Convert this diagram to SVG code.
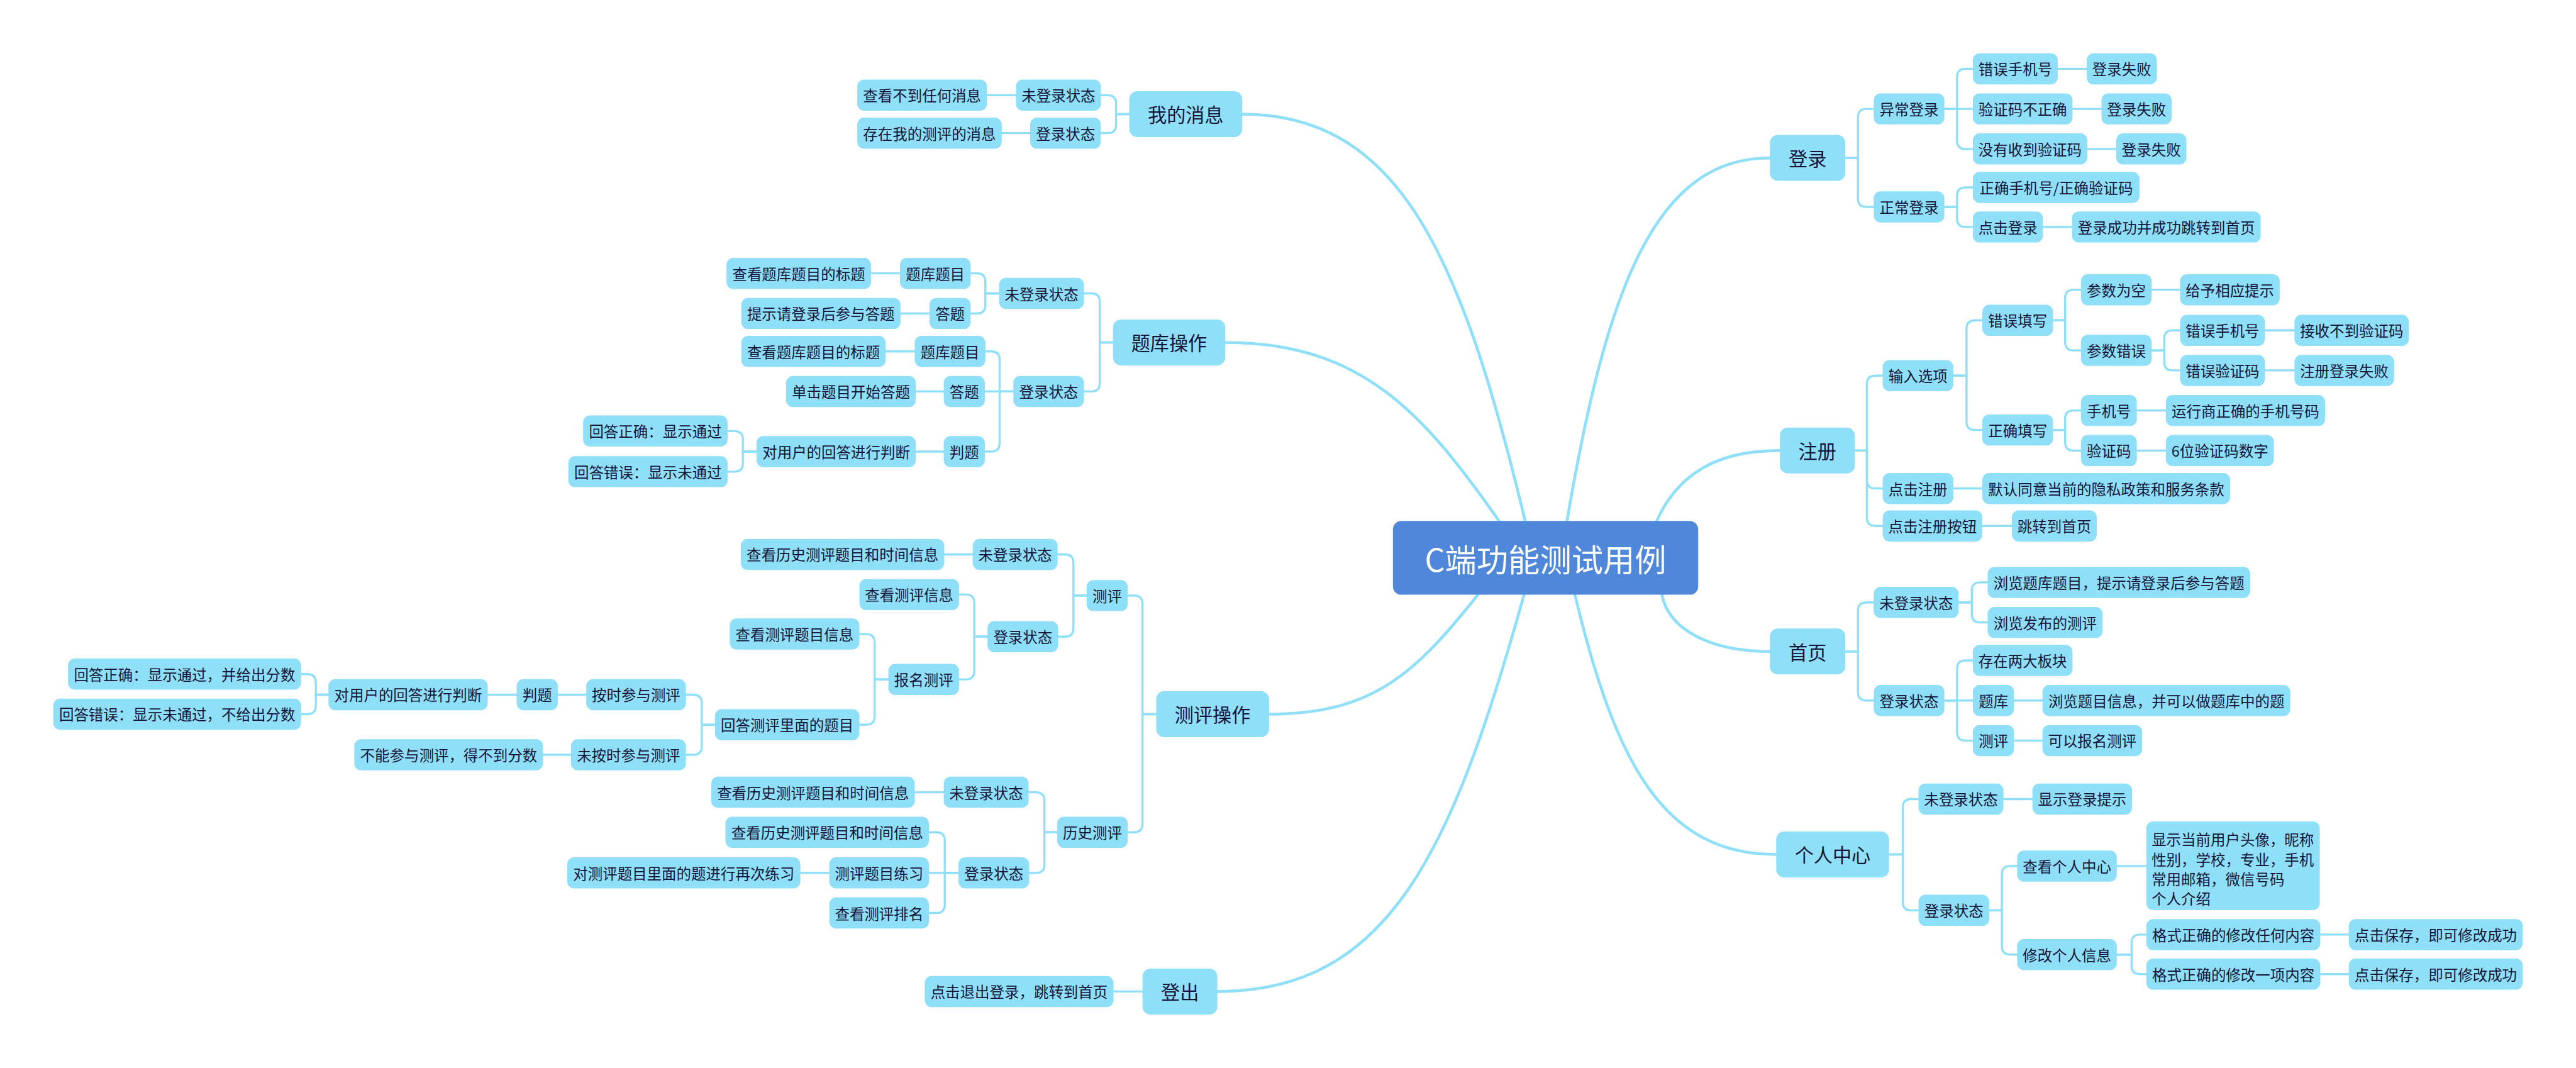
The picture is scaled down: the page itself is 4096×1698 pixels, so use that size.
<svg xmlns="http://www.w3.org/2000/svg" width="4096" height="1698" viewBox="0 0 4096 1698">
<style>
.n rect{fill:#8fdff9}
.n text{font-family:"Noto Sans CJK SC","Noto Sans",sans-serif;font-size:28px;fill:#15153a;text-anchor:middle;dominant-baseline:central}
.l1 text{font-size:36px}
.root rect{fill:#4f87db}
.root text{font-family:"Noto Sans CJK SC","Noto Sans",sans-serif;font-size:60px;fill:#ffffff;text-anchor:middle;dominant-baseline:central}
#connectors path{fill:none;stroke:#8fdff9;stroke-width:4;stroke-linecap:round}
#connectors .m{stroke-width:5.5}
</style>
<rect width="4096" height="1698" fill="#ffffff"/>
<g transform="scale(0.838313)">
<g id="connectors">
<path class="m" d="M2893,989 C2773,489 2656,216.5 2356,216.5"/>
<path class="m" d="M2844,989 C2701,785 2584,649.5 2324,649.5"/>
<path class="m" d="M2804,1127 C2686,1275 2606,1354.5 2407,1354.5"/>
<path class="m" d="M2891,1127 C2754,1617 2634,1880.5 2309,1880.5"/>
<path class="m" d="M2972,989 C3048,541 3141,299.5 3357,299.5"/>
<path class="m" d="M3142,989 C3182,899 3256,854.5 3376,854.5"/>
<path class="m" d="M3152,1127 C3165,1195 3245,1235.5 3357,1235.5"/>
<path class="m" d="M2987,1127 C3064,1448 3155,1620.5 3369,1620.5"/>
<path d="M3500,299.5 H3524 V222.5 Q3524,206.5 3540,206.5 H3554"/>
<path d="M3500,299.5 H3524 V376.5 Q3524,392.5 3540,392.5 H3554"/>
<path d="M3688,206.5 H3712 V146.5 Q3712,130.5 3728,130.5 H3742"/>
<path d="M3688,206.5 H3742"/>
<path d="M3688,206.5 H3712 V266.5 Q3712,282.5 3728,282.5 H3742"/>
<path d="M3903,130.5 H3958"/>
<path d="M3931,206.5 H3986"/>
<path d="M3959,282.5 H4014"/>
<path d="M3688,392.5 H3712 V371.5 Q3712,355.5 3728,355.5 H3742"/>
<path d="M3688,392.5 H3712 V414.5 Q3712,430.5 3728,430.5 H3742"/>
<path d="M3875,430.5 H3930"/>
<path d="M3518,854.5 H3541 V728.5 Q3541,712.5 3557,712.5 H3571"/>
<path d="M3518,854.5 H3541 V910.5 Q3541,926.5 3557,926.5 H3571"/>
<path d="M3518,854.5 H3541 V981.5 Q3541,997.5 3557,997.5 H3571"/>
<path d="M3705,712.5 H3730 V623.5 Q3730,607.5 3746,607.5 H3760"/>
<path d="M3705,712.5 H3730 V799.5 Q3730,815.5 3746,815.5 H3760"/>
<path d="M3894,607.5 H3917 V565.5 Q3917,549.5 3933,549.5 H3947"/>
<path d="M3894,607.5 H3917 V648.5 Q3917,664.5 3933,664.5 H3947"/>
<path d="M4081,549.5 H4135"/>
<path d="M4081,664.5 H4105 V642.5 Q4105,626.5 4121,626.5 H4135"/>
<path d="M4081,664.5 H4105 V686.5 Q4105,702.5 4121,702.5 H4135"/>
<path d="M4296,626.5 H4352"/>
<path d="M4296,702.5 H4352"/>
<path d="M3894,815.5 H3917 V794.5 Q3917,778.5 3933,778.5 H3947"/>
<path d="M3894,815.5 H3917 V838.5 Q3917,854.5 3933,854.5 H3947"/>
<path d="M4053,778.5 H4108"/>
<path d="M4053,854.5 H4108"/>
<path d="M3705,926.5 H3760"/>
<path d="M3760,997.5 H3816"/>
<path d="M3500,1235.5 H3524 V1158.5 Q3524,1142.5 3540,1142.5 H3554"/>
<path d="M3500,1235.5 H3524 V1312.5 Q3524,1328.5 3540,1328.5 H3554"/>
<path d="M3715,1142.5 H3740 V1120.5 Q3740,1104.5 3756,1104.5 H3770"/>
<path d="M3715,1142.5 H3740 V1164.5 Q3740,1180.5 3756,1180.5 H3770"/>
<path d="M3688,1328.5 H3712 V1268.5 Q3712,1252.5 3728,1252.5 H3742"/>
<path d="M3688,1328.5 H3742"/>
<path d="M3688,1328.5 H3712 V1388.5 Q3712,1404.5 3728,1404.5 H3742"/>
<path d="M3820,1328.5 H3874"/>
<path d="M3820,1404.5 H3874"/>
<path d="M3583,1620.5 H3609 V1531.5 Q3609,1515.5 3625,1515.5 H3639"/>
<path d="M3583,1620.5 H3609 V1710.5 Q3609,1726.5 3625,1726.5 H3639"/>
<path d="M3800,1515.5 H3855"/>
<path d="M3773,1726.5 H3797 V1658.5 Q3797,1642.5 3813,1642.5 H3826"/>
<path d="M3773,1726.5 H3797 V1794.5 Q3797,1810.5 3813,1810.5 H3826"/>
<path d="M4015,1642.5 H4071"/>
<path d="M4015,1810.5 H4043 V1788.5 Q4043,1772.5 4059,1772.5 H4071"/>
<path d="M4015,1810.5 H4043 V1831.5 Q4043,1847.5 4059,1847.5 H4071"/>
<path d="M4401,1772.5 H4455"/>
<path d="M4401,1847.5 H4455"/>
<path d="M2142,216.5 H2117 V196.5 Q2117,180.5 2101,180.5 H2088"/>
<path d="M2142,216.5 H2117 V236.5 Q2117,252.5 2101,252.5 H2088"/>
<path d="M1927,180.5 H1872"/>
<path d="M1954,252.5 H1900"/>
<path d="M2111,649.5 H2086 V572.5 Q2086,556.5 2070,556.5 H2056"/>
<path d="M2111,649.5 H2086 V726.5 Q2086,742.5 2070,742.5 H2056"/>
<path d="M1895,556.5 H1869 V534.5 Q1869,518.5 1853,518.5 H1841"/>
<path d="M1895,556.5 H1869 V578.5 Q1869,594.5 1853,594.5 H1841"/>
<path d="M1707,518.5 H1652"/>
<path d="M1763,594.5 H1708"/>
<path d="M1922,742.5 H1896 V682.5 Q1896,666.5 1880,666.5 H1869"/>
<path d="M1922,742.5 H1868"/>
<path d="M1922,742.5 H1896 V840.5 Q1896,856.5 1880,856.5 H1868"/>
<path d="M1735,666.5 H1680"/>
<path d="M1790,742.5 H1737"/>
<path d="M1790,856.5 H1737"/>
<path d="M1435,856.5 H1409 V833.5 Q1409,817.5 1393,817.5 H1380"/>
<path d="M1435,856.5 H1409 V878.5 Q1409,894.5 1393,894.5 H1380"/>
<path d="M2193,1354.5 H2167 V1145.5 Q2167,1129.5 2151,1129.5 H2139"/>
<path d="M2193,1354.5 H2167 V1562.5 Q2167,1578.5 2151,1578.5 H2139"/>
<path d="M2061,1129.5 H2036 V1067.5 Q2036,1051.5 2020,1051.5 H2006"/>
<path d="M2061,1129.5 H2036 V1191.5 Q2036,1207.5 2020,1207.5 H2007"/>
<path d="M1845,1051.5 H1791"/>
<path d="M1873,1207.5 H1848 V1143.5 Q1848,1127.5 1832,1127.5 H1819"/>
<path d="M1873,1207.5 H1848 V1272.5 Q1848,1288.5 1832,1288.5 H1819"/>
<path d="M1685,1288.5 H1659 V1218.5 Q1659,1202.5 1643,1202.5 H1630"/>
<path d="M1685,1288.5 H1659 V1358.5 Q1659,1374.5 1643,1374.5 H1630"/>
<path d="M1356,1374.5 H1331 V1333.5 Q1331,1317.5 1315,1317.5 H1301"/>
<path d="M1356,1374.5 H1331 V1415.5 Q1331,1431.5 1315,1431.5 H1301"/>
<path d="M1112,1317.5 H1058"/>
<path d="M980,1317.5 H925"/>
<path d="M623,1317.5 H599 V1294.5 Q599,1278.5 583,1278.5 H571"/>
<path d="M623,1317.5 H599 V1338.5 Q599,1354.5 583,1354.5 H571"/>
<path d="M1083,1431.5 H1030"/>
<path d="M2005,1578.5 H1981 V1518.5 Q1981,1502.5 1965,1502.5 H1951"/>
<path d="M2005,1578.5 H1981 V1639.5 Q1981,1655.5 1965,1655.5 H1952"/>
<path d="M1790,1502.5 H1735"/>
<path d="M1818,1655.5 H1792 V1594.5 Q1792,1578.5 1776,1578.5 H1762"/>
<path d="M1818,1655.5 H1762"/>
<path d="M1818,1655.5 H1792 V1715.5 Q1792,1731.5 1776,1731.5 H1762"/>
<path d="M1573,1655.5 H1518"/>
<path d="M2167,1880.5 H2112"/>
</g>

<g id="root" class="root"><rect x="2642" y="988" width="579" height="140" rx="16"/><text x="2931.5" y="1058">C端功能测试用例</text></g>

<g id="login" class="n l1"><rect x="3357" y="256" width="143" height="87" rx="15"/><text x="3428.5" y="299.5">登录</text></g>
<g id="login-abn" class="n"><rect x="3554" y="177" width="134" height="59" rx="13"/><text x="3621" y="206.5">异常登录</text></g>
<g id="login-abn-1" class="n"><rect x="3742" y="101" width="161" height="59" rx="13"/><text x="3822.5" y="130.5">错误手机号</text></g>
<g id="login-abn-1a" class="n"><rect x="3958" y="101" width="133" height="59" rx="13"/><text x="4024.5" y="130.5">登录失败</text></g>
<g id="login-abn-2" class="n"><rect x="3742" y="177" width="189" height="59" rx="13"/><text x="3836.5" y="206.5">验证码不正确</text></g>
<g id="login-abn-2a" class="n"><rect x="3986" y="177" width="133" height="59" rx="13"/><text x="4052.5" y="206.5">登录失败</text></g>
<g id="login-abn-3" class="n"><rect x="3742" y="253" width="217" height="59" rx="13"/><text x="3850.5" y="282.5">没有收到验证码</text></g>
<g id="login-abn-3a" class="n"><rect x="4014" y="253" width="133" height="59" rx="13"/><text x="4080.5" y="282.5">登录失败</text></g>
<g id="login-ok" class="n"><rect x="3554" y="363" width="134" height="59" rx="13"/><text x="3621" y="392.5">正常登录</text></g>
<g id="login-ok-1" class="n"><rect x="3742" y="326" width="316" height="59" rx="13"/><text x="3900" y="355.5">正确手机号/正确验证码</text></g>
<g id="login-ok-2" class="n"><rect x="3742" y="401" width="133" height="59" rx="13"/><text x="3808.5" y="430.5">点击登录</text></g>
<g id="login-ok-2a" class="n"><rect x="3930" y="401" width="358" height="59" rx="13"/><text x="4109" y="430.5">登录成功并成功跳转到首页</text></g>

<g id="reg" class="n l1"><rect x="3376" y="811" width="142" height="87" rx="15"/><text x="3447" y="854.5">注册</text></g>
<g id="reg-input" class="n"><rect x="3571" y="683" width="134" height="59" rx="13"/><text x="3638" y="712.5">输入选项</text></g>
<g id="reg-wrong" class="n"><rect x="3760" y="578" width="134" height="59" rx="13"/><text x="3827" y="607.5">错误填写</text></g>
<g id="reg-empty" class="n"><rect x="3947" y="520" width="134" height="59" rx="13"/><text x="4014" y="549.5">参数为空</text></g>
<g id="reg-empty-a" class="n"><rect x="4135" y="520" width="189" height="59" rx="13"/><text x="4229.5" y="549.5">给予相应提示</text></g>
<g id="reg-err" class="n"><rect x="3947" y="635" width="134" height="59" rx="13"/><text x="4014" y="664.5">参数错误</text></g>
<g id="reg-err-1" class="n"><rect x="4135" y="597" width="161" height="59" rx="13"/><text x="4215.5" y="626.5">错误手机号</text></g>
<g id="reg-err-1a" class="n"><rect x="4352" y="597" width="217" height="59" rx="13"/><text x="4460.5" y="626.5">接收不到验证码</text></g>
<g id="reg-err-2" class="n"><rect x="4135" y="673" width="161" height="59" rx="13"/><text x="4215.5" y="702.5">错误验证码</text></g>
<g id="reg-err-2a" class="n"><rect x="4352" y="673" width="189" height="59" rx="13"/><text x="4446.5" y="702.5">注册登录失败</text></g>
<g id="reg-right" class="n"><rect x="3760" y="786" width="134" height="59" rx="13"/><text x="3827" y="815.5">正确填写</text></g>
<g id="reg-phone" class="n"><rect x="3947" y="749" width="106" height="59" rx="13"/><text x="4000" y="778.5">手机号</text></g>
<g id="reg-phone-a" class="n"><rect x="4108" y="749" width="302" height="59" rx="13"/><text x="4259" y="778.5">运行商正确的手机号码</text></g>
<g id="reg-code" class="n"><rect x="3947" y="825" width="106" height="59" rx="13"/><text x="4000" y="854.5">验证码</text></g>
<g id="reg-code-a" class="n"><rect x="4108" y="825" width="205" height="59" rx="13"/><text x="4210.5" y="854.5">6位验证码数字</text></g>
<g id="reg-click" class="n"><rect x="3571" y="897" width="134" height="59" rx="13"/><text x="3638" y="926.5">点击注册</text></g>
<g id="reg-click-a" class="n"><rect x="3760" y="897" width="470" height="59" rx="13"/><text x="3995" y="926.5">默认同意当前的隐私政策和服务条款</text></g>
<g id="reg-btn" class="n"><rect x="3571" y="968" width="189" height="59" rx="13"/><text x="3665.5" y="997.5">点击注册按钮</text></g>
<g id="reg-btn-a" class="n"><rect x="3816" y="968" width="161" height="59" rx="13"/><text x="3896.5" y="997.5">跳转到首页</text></g>

<g id="home" class="n l1"><rect x="3357" y="1192" width="143" height="87" rx="15"/><text x="3428.5" y="1235.5">首页</text></g>
<g id="home-out" class="n"><rect x="3554" y="1113" width="161" height="59" rx="13"/><text x="3634.5" y="1142.5">未登录状态</text></g>
<g id="home-out-1" class="n"><rect x="3770" y="1075" width="498" height="59" rx="13"/><text x="4019" y="1104.5">浏览题库题目，提示请登录后参与答题</text></g>
<g id="home-out-2" class="n"><rect x="3770" y="1151" width="218" height="59" rx="13"/><text x="3879" y="1180.5">浏览发布的测评</text></g>
<g id="home-in" class="n"><rect x="3554" y="1299" width="134" height="59" rx="13"/><text x="3621" y="1328.5">登录状态</text></g>
<g id="home-in-1" class="n"><rect x="3742" y="1223" width="189" height="59" rx="13"/><text x="3836.5" y="1252.5">存在两大板块</text></g>
<g id="home-in-2" class="n"><rect x="3742" y="1299" width="78" height="59" rx="13"/><text x="3781" y="1328.5">题库</text></g>
<g id="home-in-2a" class="n"><rect x="3874" y="1299" width="470" height="59" rx="13"/><text x="4109" y="1328.5">浏览题目信息，并可以做题库中的题</text></g>
<g id="home-in-3" class="n"><rect x="3742" y="1375" width="78" height="59" rx="13"/><text x="3781" y="1404.5">测评</text></g>
<g id="home-in-3a" class="n"><rect x="3874" y="1375" width="189" height="59" rx="13"/><text x="3968.5" y="1404.5">可以报名测评</text></g>

<g id="pc" class="n l1"><rect x="3369" y="1577" width="214" height="87" rx="15"/><text x="3476" y="1620.5">个人中心</text></g>
<g id="pc-out" class="n"><rect x="3639" y="1486" width="161" height="59" rx="13"/><text x="3719.5" y="1515.5">未登录状态</text></g>
<g id="pc-out-a" class="n"><rect x="3855" y="1486" width="189" height="59" rx="13"/><text x="3949.5" y="1515.5">显示登录提示</text></g>
<g id="pc-in" class="n"><rect x="3639" y="1697" width="134" height="59" rx="13"/><text x="3706" y="1726.5">登录状态</text></g>
<g id="pc-view" class="n"><rect x="3826" y="1613" width="189" height="59" rx="13"/><text x="3920.5" y="1642.5">查看个人中心</text></g>
<g id="pc-view-a" class="n"><rect x="4071" y="1558" width="329" height="168" rx="13"/><text x="4081" y="1591" style="text-anchor:start">显示当前用户头像，昵称</text><text x="4081" y="1629" style="text-anchor:start">性别，学校，专业，手机</text><text x="4081" y="1667" style="text-anchor:start">常用邮箱，微信号码</text><text x="4081" y="1704" style="text-anchor:start">个人介绍</text></g>
<g id="pc-edit" class="n"><rect x="3826" y="1781" width="189" height="59" rx="13"/><text x="3920.5" y="1810.5">修改个人信息</text></g>
<g id="pc-edit-1" class="n"><rect x="4071" y="1743" width="330" height="59" rx="13"/><text x="4236" y="1772.5">格式正确的修改任何内容</text></g>
<g id="pc-edit-1a" class="n"><rect x="4455" y="1743" width="330" height="59" rx="13"/><text x="4620" y="1772.5">点击保存，即可修改成功</text></g>
<g id="pc-edit-2" class="n"><rect x="4071" y="1818" width="330" height="59" rx="13"/><text x="4236" y="1847.5">格式正确的修改一项内容</text></g>
<g id="pc-edit-2a" class="n"><rect x="4455" y="1818" width="330" height="59" rx="13"/><text x="4620" y="1847.5">点击保存，即可修改成功</text></g>

<g id="msg" class="n l1"><rect x="2142" y="173" width="214" height="87" rx="15"/><text x="2249" y="216.5">我的消息</text></g>
<g id="msg-out" class="n"><rect x="1927" y="151" width="161" height="59" rx="13"/><text x="2007.5" y="180.5">未登录状态</text></g>
<g id="msg-out-a" class="n"><rect x="1626" y="151" width="246" height="59" rx="13"/><text x="1749" y="180.5">查看不到任何消息</text></g>
<g id="msg-in" class="n"><rect x="1954" y="223" width="134" height="59" rx="13"/><text x="2021" y="252.5">登录状态</text></g>
<g id="msg-in-a" class="n"><rect x="1626" y="223" width="274" height="59" rx="13"/><text x="1763" y="252.5">存在我的测评的消息</text></g>

<g id="tk" class="n l1"><rect x="2111" y="606" width="213" height="87" rx="15"/><text x="2217.5" y="649.5">题库操作</text></g>
<g id="tk-out" class="n"><rect x="1895" y="527" width="161" height="59" rx="13"/><text x="1975.5" y="556.5">未登录状态</text></g>
<g id="tk-out-1" class="n"><rect x="1707" y="489" width="134" height="59" rx="13"/><text x="1774" y="518.5">题库题目</text></g>
<g id="tk-out-1a" class="n"><rect x="1378" y="489" width="274" height="59" rx="13"/><text x="1515" y="518.5">查看题库题目的标题</text></g>
<g id="tk-out-2" class="n"><rect x="1763" y="565" width="78" height="59" rx="13"/><text x="1802" y="594.5">答题</text></g>
<g id="tk-out-2a" class="n"><rect x="1406" y="565" width="302" height="59" rx="13"/><text x="1557" y="594.5">提示请登录后参与答题</text></g>
<g id="tk-in" class="n"><rect x="1922" y="713" width="134" height="59" rx="13"/><text x="1989" y="742.5">登录状态</text></g>
<g id="tk-in-1" class="n"><rect x="1735" y="637" width="134" height="59" rx="13"/><text x="1802" y="666.5">题库题目</text></g>
<g id="tk-in-1a" class="n"><rect x="1406" y="637" width="274" height="59" rx="13"/><text x="1543" y="666.5">查看题库题目的标题</text></g>
<g id="tk-in-2" class="n"><rect x="1790" y="713" width="78" height="59" rx="13"/><text x="1829" y="742.5">答题</text></g>
<g id="tk-in-2a" class="n"><rect x="1491" y="713" width="246" height="59" rx="13"/><text x="1614" y="742.5">单击题目开始答题</text></g>
<g id="tk-in-3" class="n"><rect x="1790" y="827" width="78" height="59" rx="13"/><text x="1829" y="856.5">判题</text></g>
<g id="tk-in-3a" class="n"><rect x="1435" y="827" width="302" height="59" rx="13"/><text x="1586" y="856.5">对用户的回答进行判断</text></g>
<g id="tk-in-3a1" class="n"><rect x="1106" y="788" width="274" height="59" rx="13"/><text x="1243" y="817.5">回答正确：显示通过</text></g>
<g id="tk-in-3a2" class="n"><rect x="1078" y="865" width="302" height="59" rx="13"/><text x="1229" y="894.5">回答错误：显示未通过</text></g>

<g id="cp" class="n l1"><rect x="2193" y="1311" width="214" height="87" rx="15"/><text x="2300" y="1354.5">测评操作</text></g>
<g id="cp-eval" class="n"><rect x="2061" y="1100" width="78" height="59" rx="13"/><text x="2100" y="1129.5">测评</text></g>
<g id="cp-eval-out" class="n"><rect x="1845" y="1022" width="161" height="59" rx="13"/><text x="1925.5" y="1051.5">未登录状态</text></g>
<g id="cp-eval-out-a" class="n"><rect x="1405" y="1022" width="386" height="59" rx="13"/><text x="1598" y="1051.5">查看历史测评题目和时间信息</text></g>
<g id="cp-eval-in" class="n"><rect x="1873" y="1178" width="134" height="59" rx="13"/><text x="1940" y="1207.5">登录状态</text></g>
<g id="cp-eval-in-1" class="n"><rect x="1630" y="1098" width="189" height="59" rx="13"/><text x="1724.5" y="1127.5">查看测评信息</text></g>
<g id="cp-eval-in-2" class="n"><rect x="1685" y="1259" width="134" height="59" rx="13"/><text x="1752" y="1288.5">报名测评</text></g>
<g id="cp-eval-in-2a" class="n"><rect x="1384" y="1173" width="246" height="59" rx="13"/><text x="1507" y="1202.5">查看测评题目信息</text></g>
<g id="cp-eval-in-2b" class="n"><rect x="1356" y="1345" width="274" height="59" rx="13"/><text x="1493" y="1374.5">回答测评里面的题目</text></g>
<g id="cp-ontime" class="n"><rect x="1112" y="1288" width="189" height="59" rx="13"/><text x="1206.5" y="1317.5">按时参与测评</text></g>
<g id="cp-judge" class="n"><rect x="980" y="1288" width="78" height="59" rx="13"/><text x="1019" y="1317.5">判题</text></g>
<g id="cp-judge-a" class="n"><rect x="623" y="1288" width="302" height="59" rx="13"/><text x="774" y="1317.5">对用户的回答进行判断</text></g>
<g id="cp-judge-a1" class="n"><rect x="129" y="1249" width="442" height="59" rx="13"/><text x="350" y="1278.5">回答正确：显示通过，并给出分数</text></g>
<g id="cp-judge-a2" class="n"><rect x="101" y="1325" width="470" height="59" rx="13"/><text x="336" y="1354.5">回答错误：显示未通过，不给出分数</text></g>
<g id="cp-late" class="n"><rect x="1083" y="1402" width="218" height="59" rx="13"/><text x="1192" y="1431.5">未按时参与测评</text></g>
<g id="cp-late-a" class="n"><rect x="672" y="1402" width="358" height="59" rx="13"/><text x="851" y="1431.5">不能参与测评，得不到分数</text></g>
<g id="cp-hist" class="n"><rect x="2005" y="1549" width="134" height="59" rx="13"/><text x="2072" y="1578.5">历史测评</text></g>
<g id="cp-hist-out" class="n"><rect x="1790" y="1473" width="161" height="59" rx="13"/><text x="1870.5" y="1502.5">未登录状态</text></g>
<g id="cp-hist-out-a" class="n"><rect x="1349" y="1473" width="386" height="59" rx="13"/><text x="1542" y="1502.5">查看历史测评题目和时间信息</text></g>
<g id="cp-hist-in" class="n"><rect x="1818" y="1626" width="134" height="59" rx="13"/><text x="1885" y="1655.5">登录状态</text></g>
<g id="cp-hist-in-1" class="n"><rect x="1376" y="1549" width="386" height="59" rx="13"/><text x="1569" y="1578.5">查看历史测评题目和时间信息</text></g>
<g id="cp-hist-in-2" class="n"><rect x="1573" y="1626" width="189" height="59" rx="13"/><text x="1667.5" y="1655.5">测评题目练习</text></g>
<g id="cp-hist-in-2a" class="n"><rect x="1076" y="1626" width="442" height="59" rx="13"/><text x="1297" y="1655.5">对测评题目里面的题进行再次练习</text></g>
<g id="cp-hist-in-3" class="n"><rect x="1573" y="1702" width="189" height="59" rx="13"/><text x="1667.5" y="1731.5">查看测评排名</text></g>

<g id="logout" class="n l1"><rect x="2167" y="1837" width="142" height="87" rx="15"/><text x="2238" y="1880.5">登出</text></g>
<g id="logout-a" class="n"><rect x="1754" y="1851" width="358" height="59" rx="13"/><text x="1933" y="1880.5">点击退出登录，跳转到首页</text></g>
</g>
</svg>
